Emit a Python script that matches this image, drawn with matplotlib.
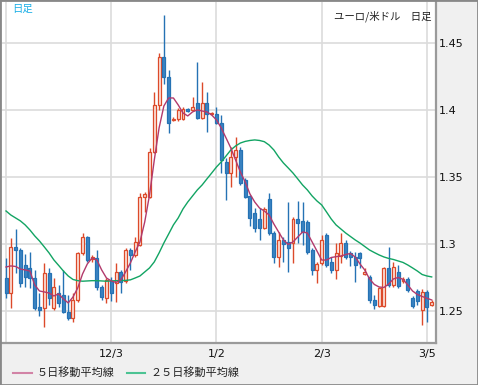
import matplotlib
matplotlib.use('Agg')
import matplotlib.pyplot as plt
from matplotlib.lines import Line2D
from matplotlib.patches import Rectangle

plt.rcParams['font.family'] = ['Noto Sans CJK JP', 'DejaVu Sans']

# daily EUR/USD candles
opens = [1.2746, 1.2634, 1.2977, 1.2955, 1.2843, 1.2821, 1.2746, 1.2530, 1.2522, 1.2783,
         1.2522, 1.2634, 1.2619, 1.2493, 1.2448, 1.2582, 1.2933, 1.3052, 1.2888, 1.2895,
         1.2679, 1.2597, 1.2724, 1.2709, 1.2791, 1.2724, 1.2955, 1.2918, 1.2992, 1.3347,
         1.3350, 1.3686, 1.4037, 1.4395, 1.4246, 1.3925, 1.3932, 1.3932, 1.4007, 1.3999,
         1.4052, 1.3940, 1.4052, 1.3970, 1.3970, 1.3902, 1.3612, 1.3529, 1.3649, 1.3701,
         1.3477, 1.3358, 1.3231, 1.3186, 1.3119, 1.3336, 1.3082, 1.2903, 1.3030, 1.3015,
         1.3007, 1.3186, 1.3171, 1.3164, 1.2955, 1.2806, 1.2858, 1.3067, 1.2866, 1.2806,
         1.2910, 1.3007, 1.2933, 1.2903, 1.2933, 1.2776, 1.2754, 1.2582, 1.2537, 1.2537,
         1.2821, 1.2694, 1.2791, 1.2724, 1.2739, 1.2597, 1.2649, 1.2507, 1.2642, 1.2545]
highs = [1.2895, 1.3045, 1.3112, 1.2970, 1.2925, 1.2940, 1.2806, 1.2634, 1.2858, 1.2821,
         1.2746, 1.2694, 1.2806, 1.2619, 1.2634, 1.2940, 1.3082, 1.3060, 1.2918, 1.2955,
         1.2694, 1.2746, 1.2754, 1.2858, 1.2806, 1.2970, 1.2970, 1.3052, 1.3380, 1.3388,
         1.3716, 1.4134, 1.4425, 1.4708, 1.4298, 1.3947, 1.4014, 1.4022, 1.4014, 1.4096,
         1.4358, 1.4208, 1.4134, 1.3985, 1.4022, 1.3962, 1.3641, 1.3723, 1.3798, 1.3723,
         1.3492, 1.3365, 1.3268, 1.3268, 1.3276, 1.3380, 1.3097, 1.3089, 1.3052, 1.3313,
         1.3201, 1.3321, 1.3313, 1.3179, 1.2970, 1.2866, 1.3067, 1.3082, 1.2903, 1.3007,
         1.3082, 1.3030, 1.2948, 1.2940, 1.2940, 1.2821, 1.2769, 1.2619, 1.2679, 1.2828,
         1.2977, 1.2866, 1.2843, 1.2754, 1.2754, 1.2612, 1.2664, 1.2664, 1.2657, 1.2582]
lows = [1.2597, 1.2522, 1.2783, 1.2679, 1.2679, 1.2672, 1.2507, 1.2463, 1.2381, 1.2545,
        1.2507, 1.2530, 1.2485, 1.2433, 1.2418, 1.2567, 1.2918, 1.2866, 1.2866, 1.2657,
        1.2582, 1.2560, 1.2575, 1.2567, 1.2634, 1.2709, 1.2806, 1.2903, 1.2985, 1.3239,
        1.3343, 1.3679, 1.3999, 1.4193, 1.3828, 1.3917, 1.3917, 1.3925, 1.3985, 1.3992,
        1.3932, 1.3932, 1.3835, 1.3962, 1.3895, 1.3529, 1.3328, 1.3425, 1.3500, 1.3440,
        1.3343, 1.3134, 1.3089, 1.3030, 1.3112, 1.3067, 1.2858, 1.2828, 1.2866, 1.2791,
        1.2858, 1.3007, 1.2992, 1.2925, 1.2769, 1.2709, 1.2843, 1.2828, 1.2783, 1.2739,
        1.2858, 1.2888, 1.2836, 1.2716, 1.2821, 1.2769, 1.2560, 1.2515, 1.2530, 1.2530,
        1.2679, 1.2679, 1.2672, 1.2709, 1.2642, 1.2522, 1.2545, 1.2396, 1.2418, 1.2537]
closes = [1.2634, 1.2977, 1.2955, 1.2709, 1.2754, 1.2746, 1.2522, 1.2507, 1.2783, 1.2597,
          1.2679, 1.2560, 1.2493, 1.2448, 1.2582, 1.2933, 1.3052, 1.2880, 1.2903, 1.2679,
          1.2604, 1.2731, 1.2634, 1.2791, 1.2716, 1.2955, 1.2918, 1.3015, 1.3350, 1.3373,
          1.3686, 1.4037, 1.4395, 1.4246, 1.3902, 1.3932, 1.3999, 1.4007, 1.3992, 1.4022,
          1.3940, 1.4052, 1.3970, 1.3977, 1.3902, 1.3626, 1.3529, 1.3649, 1.3701, 1.3455,
          1.3350, 1.3194, 1.3119, 1.3119, 1.3261, 1.3082, 1.2903, 1.3030, 1.3000, 1.2970,
          1.3186, 1.3156, 1.3089, 1.2940, 1.2806, 1.2851, 1.3030, 1.2843, 1.2806, 1.2933,
          1.3007, 1.2903, 1.2903, 1.2843, 1.2895, 1.2791, 1.2582, 1.2545, 1.2672, 1.2821,
          1.2694, 1.2828, 1.2687, 1.2739, 1.2657, 1.2537, 1.2575, 1.2642, 1.2530, 1.2567]

ma5 = [1.2828, 1.2836, 1.2832, 1.2813, 1.2806, 1.2798, 1.2694, 1.2649, 1.2642, 1.2634,
       1.2612, 1.2627, 1.2590, 1.2560, 1.2604, 1.2672, 1.2776, 1.2851, 1.2895, 1.2880,
       1.2806, 1.2746, 1.2724, 1.2713, 1.2731, 1.2791, 1.2858, 1.2940, 1.3015, 1.3164,
       1.3365, 1.3626, 1.3865, 1.4029, 1.4089, 1.4089, 1.4037, 1.3977, 1.3955, 1.3985,
       1.4000, 1.3992, 1.3985, 1.3962, 1.3925, 1.3865, 1.3791, 1.3716, 1.3626, 1.3537,
       1.3462, 1.3373, 1.3313, 1.3268, 1.3246, 1.3216, 1.3149, 1.3089, 1.3030, 1.2996,
       1.3015, 1.3052, 1.3089, 1.3082, 1.3015, 1.2948, 1.2880, 1.2880, 1.2899, 1.2905,
       1.2910, 1.2921, 1.2929, 1.2903, 1.2851, 1.2806, 1.2739, 1.2698, 1.2679, 1.2675,
       1.2701, 1.2739, 1.2750, 1.2736, 1.2694, 1.2649, 1.2623, 1.2608, 1.2595, 1.2582]
ma25 = [1.3246, 1.3216, 1.3194, 1.3172, 1.3142, 1.3104, 1.3060, 1.3022, 1.2978, 1.2933,
        1.2881, 1.2840, 1.2798, 1.2761, 1.2735, 1.2726, 1.2722, 1.2724, 1.2726, 1.2726,
        1.2724, 1.2722, 1.2724, 1.2726, 1.2726, 1.2728, 1.2732, 1.2746, 1.2761, 1.2791,
        1.2821, 1.2866, 1.2933, 1.3007, 1.3074, 1.3142, 1.3194, 1.3261, 1.3313, 1.3358,
        1.3403, 1.3440, 1.3485, 1.3529, 1.3574, 1.3612, 1.3656, 1.3701, 1.3731, 1.3753,
        1.3765, 1.3772, 1.3776, 1.3772, 1.3763, 1.3738, 1.3701, 1.3649, 1.3604, 1.3567,
        1.3529, 1.3485, 1.3440, 1.3403, 1.3358, 1.3321, 1.3291, 1.3239, 1.3186, 1.3142,
        1.3112, 1.3082, 1.3056, 1.3030, 1.3007, 1.2981, 1.2955, 1.2936, 1.2918, 1.2903,
        1.2892, 1.2884, 1.2873, 1.2862, 1.2843, 1.2821, 1.2798, 1.2772, 1.2761, 1.2754]

tick_pos = [22, 44, 66, 88]
tick_labels = ['12/3', '1/2', '2/3', '3/5']
price_ticks = [1.25, 1.30, 1.35, 1.40, 1.45]
price_labels = ['1.25', '1.3', '1.35', '1.4', '1.45']

W, H = 478, 385
fig = plt.figure(figsize=(W / 100, H / 100), dpi=100, facecolor='#f0f0f0')
ax = fig.add_axes([2 / W, 1 - 343 / H, 434 / W, 341 / H])
ax.set_facecolor('white')

# grid
for p in price_ticks:
    ax.axhline(p, color='#dcdcdc', lw=1.2, zorder=0)
for v in [0] + tick_pos:
    ax.axvline(v, color='#dcdcdc', lw=1.2, zorder=0)

# candles
up_edge, up_face = '#dc4a2a', '#fbe2da'
dn_edge, dn_face = '#2572b4', '#3b84c2'
for i in range(len(opens)):
    o, h, l, c = opens[i], highs[i], lows[i], closes[i]
    up = c >= o
    ec = up_edge if up else dn_edge
    fc = up_face if up else dn_face
    ax.vlines(i, l, h, color=ec, lw=1, zorder=2)
    bottom = min(o, c)
    height = max(abs(c - o), 0.0008)
    ax.bar(i, height, bottom=bottom, width=0.62, facecolor=fc, edgecolor=ec,
           lw=0.9, zorder=3)

# moving averages
ax.plot(range(len(ma25)), ma25, color='#12a463', lw=1, zorder=4)
ax.plot(range(len(ma5)), ma5, color='#b23a6c', lw=1, zorder=5)

ax.set_xlim(-0.84, 89.9)
ax.set_ylim(1.2261, 1.4805)

ax.yaxis.tick_right()
ax.set_yticks(price_ticks)
ax.set_yticklabels(price_labels, family='DejaVu Sans')
ax.set_xticks(tick_pos)
ax.set_xticklabels(tick_labels, family='DejaVu Sans')
ax.tick_params(axis='y', length=0, pad=2, labelsize=8, colors='#111111')
ax.tick_params(axis='x', length=0, pad=4.5, labelsize=8, colors='#111111')

for s in ['top', 'left']:
    ax.spines[s].set_visible(False)
for s in ['right', 'bottom']:
    ax.spines[s].set_color('#9a9a9a')
    ax.spines[s].set_linewidth(1.6)

# titles
fig.text(431 / W, 1 - 16 / H, 'ユーロ/米ドル　日足', ha='right', va='center',
         fontsize=7.5, color='#222222')
fig.text(12 / W, 1 - 9 / H, '日足', ha='left', va='center', fontsize=7.5,
         color='#1aaee6')

# legend
ly = 1 - 373 / H
fig.add_artist(Line2D([13 / W, 32 / W], [ly, ly], color='#d283a6', lw=1.5))
fig.text(37 / W, ly, '５日移動平均線', ha='left', va='center', fontsize=8,
         color='#222222')
fig.add_artist(Line2D([127 / W, 145 / W], [ly, ly], color='#4cc393', lw=1.5))
fig.text(150 / W, ly, '２５日移動平均線', ha='left', va='center', fontsize=8,
         color='#222222')

fig.add_artist(Rectangle((0, 0), 1, 1, transform=fig.transFigure, fill=False,
                         edgecolor='#888888', lw=2))

fig.savefig('out.png', dpi=100, facecolor=fig.get_facecolor())
